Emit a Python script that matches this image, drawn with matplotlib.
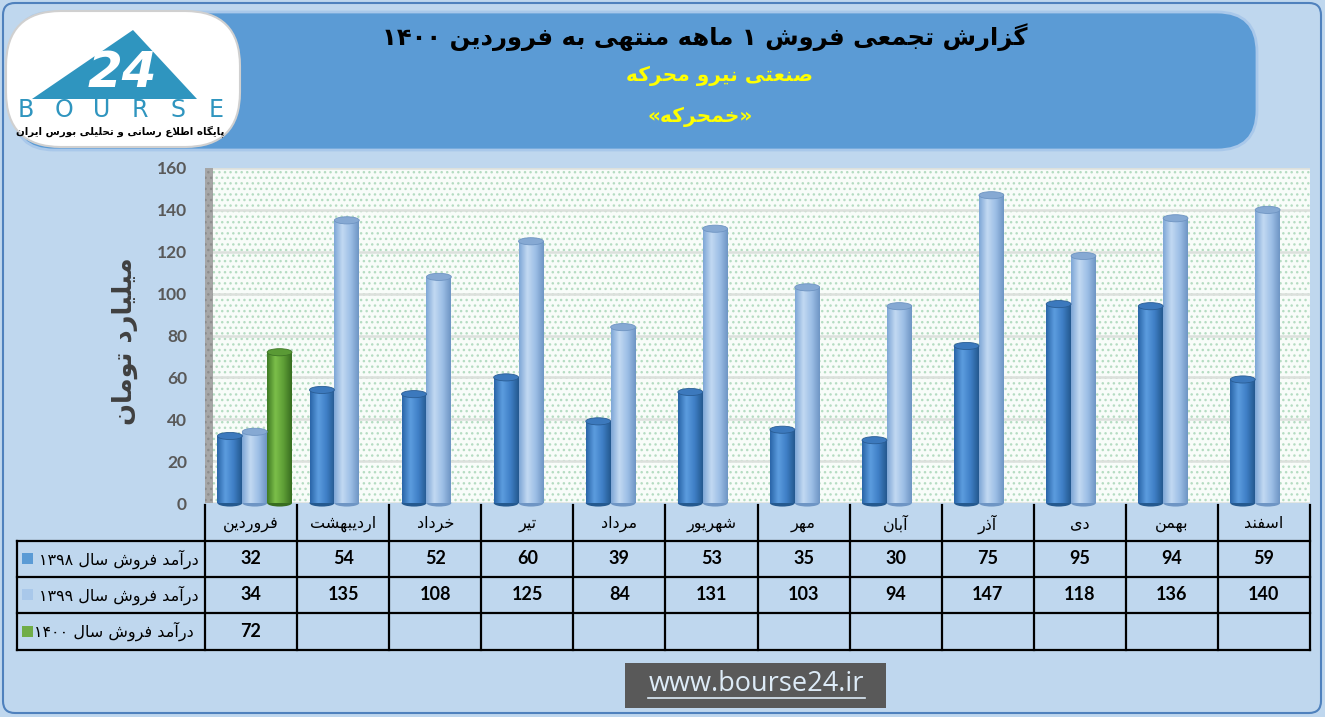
"""
Khamharkeh (خمحرکه) cumulative monthly sales, 1398-1400.
Bar chart with a data table below, saved to out.png.
"""
import re

import numpy as np
import matplotlib
matplotlib.use("Agg")
import matplotlib.pyplot as plt
from matplotlib.patches import FancyBboxPatch, Rectangle, Ellipse, Polygon
from matplotlib.colors import LinearSegmentedColormap

# ── Data ──────────────────────────────────────────────────────────────────────
MONTHS = ["فروردین", "اردیبهشت", "خرداد", "تیر", "مرداد", "شهریور",
          "مهر", "آبان", "آذر", "دی", "بهمن", "اسفند"]
SALES_1398 = [32, 54, 52, 60, 39, 53, 35, 30, 75, 95, 94, 59]
SALES_1399 = [34, 135, 108, 125, 84, 131, 103, 94, 147, 118, 136, 140]
SALES_1400 = [72, None, None, None, None, None, None, None, None, None, None, None]
SERIES_LABELS = ["درآمد فروش سال ۱۳۹۸", "درآمد فروش سال ۱۳۹۹", "درآمد فروش سال ۱۴۰۰"]
Y_TICKS = [0, 20, 40, 60, 80, 100, 120, 140, 160]

TITLE = "گزارش تجمعی فروش ۱ ماهه منتهی به فروردین ۱۴۰۰"
SUBTITLE = "صنعتی نیرو محرکه"
SYMBOL = "«خمحرکه»"
Y_LABEL = "میلیارد تومان"
LOGO_WORD = "BOURSE"
LOGO_TEXT = "پایگاه اطلاع رسانی و تحلیلی بورس ایران"
URL = "www.bourse24.ir"

W, H = 1325, 717

# ── Persian shaping (matplotlib has no complex text layout) ──────────────────
# isolated, final, initial, medial
FORMS = {
    "ا": (0xFE8D, 0xFE8E, None, None),
    "آ": (0xFE81, 0xFE82, None, None),
    "ب": (0xFE8F, 0xFE90, 0xFE91, 0xFE92),
    "پ": (0xFB56, 0xFB57, 0xFB58, 0xFB59),
    "ت": (0xFE95, 0xFE96, 0xFE97, 0xFE98),
    "ج": (0xFE9D, 0xFE9E, 0xFE9F, 0xFEA0),
    "ح": (0xFEA1, 0xFEA2, 0xFEA3, 0xFEA4),
    "خ": (0xFEA5, 0xFEA6, 0xFEA7, 0xFEA8),
    "د": (0xFEA9, 0xFEAA, None, None),
    "ذ": (0xFEAB, 0xFEAC, None, None),
    "ر": (0xFEAD, 0xFEAE, None, None),
    "ز": (0xFEAF, 0xFEB0, None, None),
    "س": (0xFEB1, 0xFEB2, 0xFEB3, 0xFEB4),
    "ش": (0xFEB5, 0xFEB6, 0xFEB7, 0xFEB8),
    "ص": (0xFEB9, 0xFEBA, 0xFEBB, 0xFEBC),
    "ط": (0xFEC1, 0xFEC2, 0xFEC3, 0xFEC4),
    "ع": (0xFEC9, 0xFECA, 0xFECB, 0xFECC),
    "ف": (0xFED1, 0xFED2, 0xFED3, 0xFED4),
    "ک": (0xFB8E, 0xFB8F, 0xFB90, 0xFB91),
    "گ": (0xFB92, 0xFB93, 0xFB94, 0xFB95),
    "ل": (0xFEDD, 0xFEDE, 0xFEDF, 0xFEE0),
    "م": (0xFEE1, 0xFEE2, 0xFEE3, 0xFEE4),
    "ن": (0xFEE5, 0xFEE6, 0xFEE7, 0xFEE8),
    "ه": (0xFEE9, 0xFEEA, 0xFEEB, 0xFEEC),
    "و": (0xFEED, 0xFEEE, None, None),
    "ی": (0xFEEF, 0xFEF0, 0xFEF3, 0xFEF4),
}
LAM_ALEF = {"ا": (0xFEFB, 0xFEFC), "آ": (0xFEF5, 0xFEF6)}
MIRROR = str.maketrans("«»()", "»«)(")


def shape(text):
    out = []
    i = 0
    prev_joins = False
    while i < len(text):
        c = text[i]
        nxt = text[i + 1] if i + 1 < len(text) else ""
        if c not in FORMS:
            out.append(c)
            prev_joins = False
            i += 1
            continue
        if c == "ل" and nxt in LAM_ALEF:
            iso, fin = LAM_ALEF[nxt]
            out.append(chr(fin if prev_joins else iso))
            prev_joins = False
            i += 2
            continue
        iso, fin, ini, med = FORMS[c]
        next_joins = ini is not None and nxt in FORMS
        if prev_joins and next_joins:
            out.append(chr(med))
        elif prev_joins:
            out.append(chr(fin))
        elif next_joins:
            out.append(chr(ini))
        else:
            out.append(chr(iso))
        prev_joins = ini is not None
        i += 1
    return "".join(out)


def fa(text):
    """Shape and put Persian text into visual (left-to-right) order."""
    runs = re.findall(r"[0-9\u06F0-\u06F9]+|[^0-9\u06F0-\u06F9]+", shape(text))
    parts = []
    for r in reversed(runs):
        parts.append(r if r[0].isdigit() else r[::-1].translate(MIRROR))
    return "".join(parts)


# ── Figure / background ──────────────────────────────────────────────────────
fig = plt.figure(figsize=(W / 100, H / 100), dpi=100)
fig.patch.set_facecolor("#BFD7EE")

bg = fig.add_axes([0, 0, 1, 1], zorder=0)
bg.set_xlim(0, W)
bg.set_ylim(H, 0)
bg.axis("off")

bg.add_patch(FancyBboxPatch((3, 3), W - 7, H - 7,
                            boxstyle="round,pad=0,rounding_size=12",
                            facecolor="#BFD7EE", edgecolor="#4F81BD", lw=1.5))

# header banner
bg.add_patch(FancyBboxPatch((14, 12), 1243, 138,
                            boxstyle="round,pad=0,rounding_size=40",
                            facecolor="#5B9BD5", edgecolor="#A9C8EA", lw=2))
bg.text(705, 37, fa(TITLE), ha="center", va="center", fontsize=17.5,
        fontweight="bold", color="black")
bg.text(719, 76, fa(SUBTITLE), ha="center", va="center", fontsize=14.5,
        fontweight="bold", color="#FFFF00")
bg.text(700, 117, fa(SYMBOL), ha="center", va="center", fontsize=14.5,
        fontweight="bold", color="#FFFF00")

# logo
bg.add_patch(FancyBboxPatch((6, 11), 234, 136,
                            boxstyle="round,pad=0,rounding_size=55",
                            facecolor="white", edgecolor="#D0D0D0", lw=1.5))
bg.add_patch(Polygon([(32, 99), (133, 30), (197, 99)], closed=True,
                     facecolor="#2F95BF", edgecolor="none"))
bg.text(122, 73, "24", ha="center", va="center", fontsize=36,
        fontweight="bold", fontstyle="italic", color="white")
for k, ch in enumerate(LOGO_WORD):
    bg.text(26 + k * 38, 110, ch, ha="center", va="center", fontsize=17,
            color="#2F95BF", family="DejaVu Sans")
bg.text(120, 131, fa(LOGO_TEXT), ha="center", va="center", fontsize=7.4,
        fontweight="bold", color="black")

# y label
bg.text(125, 341, fa(Y_LABEL), ha="center", va="center", rotation=90,
        fontsize=18.5, fontweight="bold", color="#404040")

# ── Bars ─────────────────────────────────────────────────────────────────────
AX_L, AX_R, AX_T, AX_B = 205, 1310, 168, 503
ax = fig.add_axes([AX_L / W, 1 - AX_B / H, (AX_R - AX_L) / W, (AX_B - AX_T) / H],
                  zorder=1)
ax.patch.set_facecolor("#F8FCF9")
ax.add_patch(Rectangle((0, 0), 1, 1, transform=ax.transAxes, facecolor="none",
                       edgecolor="#B5DCC2", hatch="...", lw=0, zorder=0))
for s in ax.spines.values():
    s.set_visible(False)

x = np.arange(len(MONTHS))
BAR_W = 0.27
OFFSETS = [-0.23, 0.04, 0.31]
STYLES = [
    # body gradient, cap, edge
    (["#2A65A8", "#5C9DDF", "#3F7FC6", "#24598F"], "#3C79BD", "#2A5D94"),
    (["#7EA6D6", "#C2D9F2", "#9DBFE6", "#6E95C4"], "#86A9D3", "#6E94C2"),
    (["#3F7A24", "#7CBF4A", "#5E9E36", "#386D20"], "#5A9A35", "#3E7526"),
]
CAP_H = 3.4
grad = np.linspace(0, 1, 64).reshape(1, -1)

for vals, off, (cols, cap, edge) in zip([SALES_1398, SALES_1399, SALES_1400],
                                        OFFSETS, STYLES):
    heights = np.array([np.nan if v is None else v for v in vals], dtype=float)
    bars = ax.bar(x + off, heights, width=BAR_W, facecolor="none",
                  edgecolor="none", zorder=3)
    cmap = LinearSegmentedColormap.from_list("cyl", cols)
    for rect, h in zip(bars, heights):
        if np.isnan(h):
            continue
        x0 = rect.get_x()
        x1 = x0 + rect.get_width()
        im = ax.imshow(grad, extent=(x0, x1, 0, h), aspect="auto", cmap=cmap,
                       interpolation="bicubic", zorder=3)
        im.set_clip_path(rect)
        cx = (x0 + x1) / 2
        ax.add_patch(Ellipse((cx, 0), BAR_W, CAP_H, facecolor=cols[3],
                             edgecolor="none", zorder=2.9, clip_on=False))
        ax.add_patch(Ellipse((cx, h), BAR_W, CAP_H, facecolor=cap,
                             edgecolor=edge, lw=0.6, zorder=4))

# left wall
ax.add_patch(Rectangle((-0.5, 0), 0.085, 160, facecolor="#A6A6A6",
                       edgecolor="#8C8C8C", hatch="...", lw=0, zorder=2))

ax.set_xlim(-0.5, len(MONTHS) - 0.5)
ax.set_ylim(0, 160)
ax.set_xticks([])
ax.set_yticks(Y_TICKS)
ax.yaxis.grid(True, color="#DCE0DC", lw=1.8)
ax.set_axisbelow(True)
ax.tick_params(axis="y", length=0, pad=13, labelcolor="#595959")
for lbl in ax.get_yticklabels():
    lbl.set_fontfamily("Lato")
    lbl.set_fontweight("bold")
    lbl.set_fontsize(12.5)

# ── Data table ───────────────────────────────────────────────────────────────
col_w = (AX_R - AX_L) / len(MONTHS)
ROW_Y = [541, 577, 613, 650]
TBL_L = 17
for k in range(len(MONTHS) + 1):
    bg.plot([AX_L + k * col_w] * 2, [505, ROW_Y[-1]], color="black", lw=1.6)
bg.plot([TBL_L, TBL_L], [ROW_Y[0], ROW_Y[-1]], color="black", lw=1.6)
for yy in ROW_Y:
    bg.plot([TBL_L, AX_R], [yy, yy], color="black", lw=1.6)

for k, m in enumerate(MONTHS):
    bg.text(AX_L + (k + 0.5) * col_w, 524, fa(m), ha="center", va="center",
            fontsize=11.5, color="black")

SWATCH = ["#5B9BD5", "#A9C8EA", "#70AD47"]
for r, (label, vals) in enumerate(zip(SERIES_LABELS,
                                      [SALES_1398, SALES_1399, SALES_1400])):
    yc = (ROW_Y[r] + ROW_Y[r + 1]) / 2
    bg.add_patch(Rectangle((22, yc - 6), 11, 11, facecolor=SWATCH[r],
                           edgecolor="none"))
    bg.text(199 if r < 2 else 194, yc, fa(label), ha="right", va="center",
            fontsize=11.5, color="black")
    for k, v in enumerate(vals):
        if v is None:
            continue
        bg.text(AX_L + (k + 0.5) * col_w, yc, str(v), ha="center", va="center",
                fontsize=13, fontweight="bold", family="Lato", color="black")

# ── Footer url ───────────────────────────────────────────────────────────────
bg.add_patch(Rectangle((625, 663), 261, 45, facecolor="#595959", edgecolor="none"))
bg.text(756, 684, URL, ha="center", va="center", fontsize=19.5,
        family="Open Sans", color="#DDEBF7")
bg.plot([648, 865], [698, 698], color="#DDEBF7", lw=1.2)

fig.savefig("out.png", dpi=100, facecolor=fig.get_facecolor())
